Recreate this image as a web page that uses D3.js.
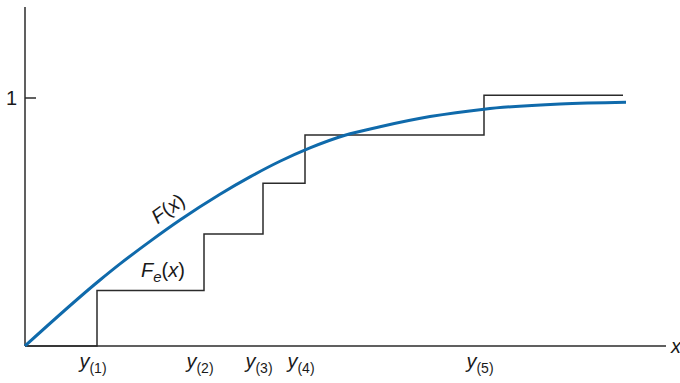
<!DOCTYPE html>
<html><head><meta charset="utf-8">
<script src="https://cdn.jsdelivr.net/npm/d3@7"></script>
<style>html,body{margin:0;padding:0;background:#fff;}svg{display:block;}</style>
</head><body>
<svg id="c" width="680" height="383"></svg>
<script>
// Order statistics (sample points) on the x axis
const orderLabels = ["1", "2", "3", "4", "5"];
const orderX = [0.72, 1.79, 2.38, 2.80, 4.59];
// Empirical CDF step heights after each order statistic
const stepY = [0.224, 0.452, 0.656, 0.851, 1.011];
const stepEndX = 5.98;
// Theoretical CDF F(x)
const curveX = [0, 0.75, 0.95, 1.25, 1.55, 1.95, 2.25, 2.55, 2.85, 3.20, 3.55, 4.05, 4.59, 5.35, 6.01];
const curveY = [0, 0.266, 0.331, 0.422, 0.508, 0.612, 0.682, 0.745, 0.799, 0.850, 0.884, 0.925, 0.955, 0.976, 0.983];
const yTicks = [1];

const svg = d3.select("#c");
const x = d3.scaleLinear().domain([0, 6.41]).range([25, 666]);
const y = d3.scaleLinear().domain([0, 1]).range([346, 98]);
const yTop = 1.367;

const font = "'Liberation Sans', Arial, Helvetica, sans-serif";

// step function
const stepData = [{x: 0, y: 0}].concat(orderX.map((d, i) => ({x: d, y: stepY[i]})), [{x: stepEndX, y: stepY[stepY.length - 1]}]);
svg.append("path")
  .attr("d", d3.line().x(d => x(d.x)).y(d => y(d.y)).curve(d3.curveStepAfter)(stepData))
  .attr("fill", "none").attr("stroke", "#2b2b2b").attr("stroke-width", 1.5);

// axes
svg.append("line").attr("x1", x(0)).attr("x2", x(0)).attr("y1", y(0)).attr("y2", y(yTop))
  .attr("stroke", "#2b2b2b").attr("stroke-width", 1.5);
svg.append("line").attr("x1", x(0)).attr("x2", x(6.41)).attr("y1", y(0)).attr("y2", y(0))
  .attr("stroke", "#2b2b2b").attr("stroke-width", 1.5);

yTicks.forEach(t => {
  svg.append("line").attr("x1", x(0)).attr("x2", x(0) + 11).attr("y1", y(t)).attr("y2", y(t))
    .attr("stroke", "#2b2b2b").attr("stroke-width", 1.5);
  svg.append("text").attr("x", 17).attr("y", y(t)).attr("dy", "0.36em")
    .attr("text-anchor", "end").attr("font-family", font).attr("font-size", 20)
    .attr("fill", "#1a1a1a").text(String(t));
});

// curve F(x)
const curveData = curveX.map((d, i) => ({x: d, y: curveY[i]}));
svg.append("path")
  .attr("d", d3.line().x(d => x(d.x)).y(d => y(d.y)).curve(d3.curveMonotoneX)(curveData))
  .attr("fill", "none").attr("stroke", "#0f6aab").attr("stroke-width", 3);

// x axis labels y_(i)
orderX.forEach((d, i) => {
  const t = svg.append("text").attr("x", x(d) - 4).attr("y", 368)
    .attr("text-anchor", "middle").attr("font-family", font).attr("fill", "#1a1a1a");
  t.append("tspan").attr("font-style", "italic").attr("font-size", 20).text("y");
  t.append("tspan").attr("font-size", 14).attr("dy", 5).text("(" + orderLabels[i] + ")");
});

// x axis name
svg.append("text").attr("x", 671).attr("y", 353).attr("font-family", font)
  .attr("font-style", "italic").attr("font-size", 20).attr("fill", "#1a1a1a").text("x");

// F(x) label along curve
svg.append("text").attr("transform", "translate(172,214) rotate(-36)")
  .attr("text-anchor", "middle").attr("font-family", font).attr("font-size", 20).attr("fill", "#1a1a1a")
  .call(t => {
    t.append("tspan").attr("font-style", "italic").text("F");
    t.append("tspan").text("(");
    t.append("tspan").attr("font-style", "italic").text("x");
    t.append("tspan").text(")");
  });

// Fe(x) label
svg.append("text").attr("x", 141).attr("y", 277).attr("font-family", font).attr("font-size", 20).attr("fill", "#1a1a1a")
  .call(t => {
    t.append("tspan").attr("font-style", "italic").text("F");
    t.append("tspan").attr("font-style", "italic").attr("font-size", 15).attr("dy", 5).text("e");
    t.append("tspan").attr("dy", -5).text("(");
    t.append("tspan").attr("font-style", "italic").text("x");
    t.append("tspan").text(")");
  });
</script>
</body></html>
